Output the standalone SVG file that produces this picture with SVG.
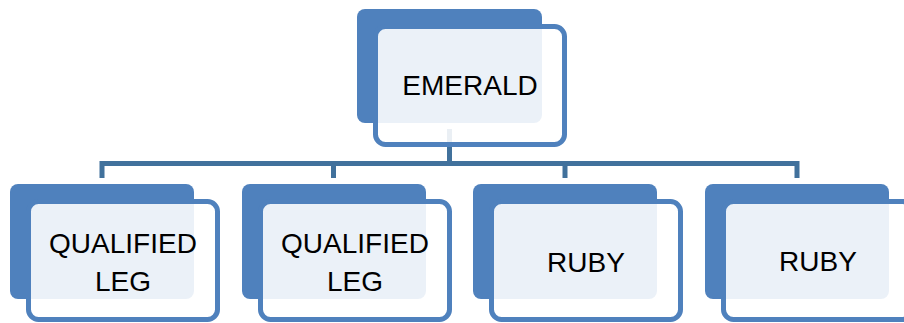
<svg xmlns="http://www.w3.org/2000/svg" width="904" height="323" viewBox="0 0 904 323">
  <style>
    .back { fill: #4F81BD; }
    .front { fill: #FFFFFF; fill-opacity: 0.89; stroke: #4F81BD; stroke-width: 5; }
    .label { font-family: "Liberation Sans", Arial, sans-serif; font-size: 28px; fill: #000000; text-anchor: middle; }
    .link { fill: none; stroke: #41719C; stroke-width: 5; stroke-linejoin: miter; }
  </style>
  <rect width="904" height="323" fill="#FFFFFF"/>

  <!-- tree connectors -->
  <g id="connectors">
    <path class="link" d="M449.5 129 V163.5"/>
    <path class="link" d="M102 178 V163.5 H797 V178"/>
    <path class="link" d="M333.5 163.5 V178"/>
    <path class="link" d="M565 163.5 V178"/>
  </g>

  <g id="emerald">
    <rect class="back" x="357" y="9" width="185" height="114" rx="8"/>
    <rect class="front" x="375.5" y="26.5" width="189" height="118" rx="10"/>
    <text class="label" x="470" y="95">EMERALD</text>
  </g>

  <g id="qualified-leg-1">
    <rect class="back" x="10" y="184" width="184" height="115" rx="8"/>
    <rect class="front" x="28.5" y="201.5" width="189" height="118" rx="10"/>
    <text class="label" x="123" y="253">QUALIFIED</text>
    <text class="label" x="123" y="291">LEG</text>
  </g>

  <g id="qualified-leg-2">
    <rect class="back" x="242" y="184" width="184" height="115" rx="8"/>
    <rect class="front" x="260.5" y="201.5" width="189" height="118" rx="10"/>
    <text class="label" x="355" y="253">QUALIFIED</text>
    <text class="label" x="355" y="291">LEG</text>
  </g>

  <g id="ruby-1">
    <rect class="back" x="473" y="184" width="184" height="115" rx="8"/>
    <rect class="front" x="491.5" y="201.5" width="189" height="118" rx="10"/>
    <text class="label" x="586" y="272">RUBY</text>
  </g>

  <g id="ruby-2">
    <rect class="back" x="705" y="184" width="184" height="115" rx="8"/>
    <rect class="front" x="723.5" y="201.5" width="189" height="118" rx="10"/>
    <text class="label" x="818" y="271">RUBY</text>
  </g>
</svg>
